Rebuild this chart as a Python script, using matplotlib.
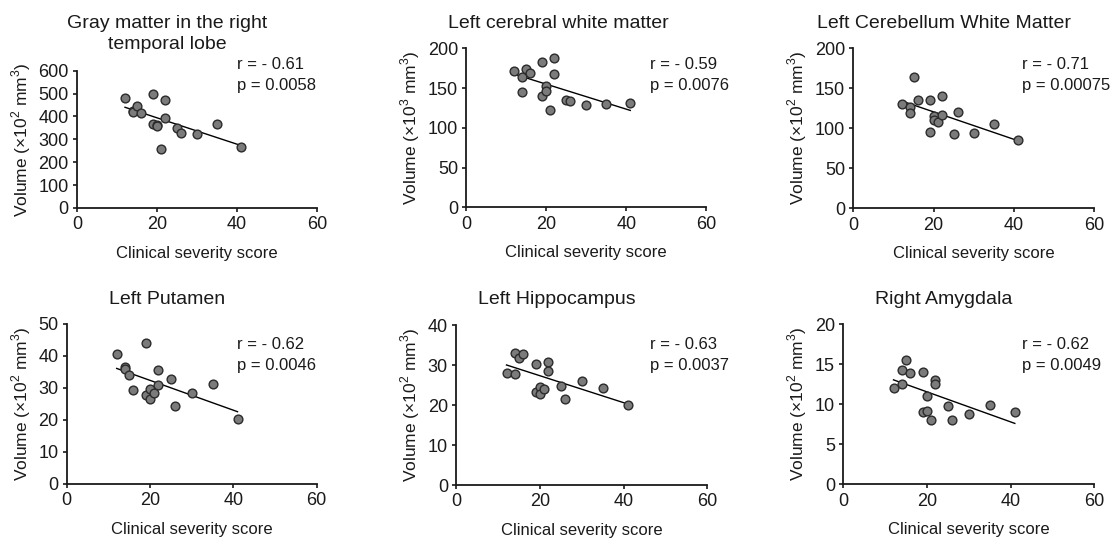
import numpy as np
import matplotlib
matplotlib.use("Agg")
import matplotlib.pyplot as plt

plt.rcParams['font.family'] = ['Liberation Sans', 'DejaVu Sans']
plt.rcParams['mathtext.fontset'] = 'custom'
plt.rcParams['mathtext.rm'] = 'Liberation Sans'

# clinical severity score (x), same subjects in every panel
score = [12, 14, 14, 15, 16, 19, 19, 20, 20, 21, 22, 22, 25, 26, 30, 35, 41]

gray_temporal = [480, 424, 418, 446, 414, 497, 366, 363, 360, 257, 472, 392, 349, 327, 324, 366, 266]
cerebral_wm = [172, 164, 145, 174, 169, 183, 140, 153, 146, 123, 188, 168, 135, 134, 129, 130, 131]
cerebellum_wm = [131, 127, 119, 164, 135, 136, 96, 115, 110, 108, 140, 117, 92.5, 121, 94, 105, 85]
putamen = [40.5, 36.5, 36.0, 34.0, 29.4, 44.0, 27.8, 29.6, 26.5, 28.3, 35.6, 30.9, 32.7, 24.4, 28.5, 31.1, 20.3]
hippocampus = [28.1, 33.1, 27.75, 31.8, 32.75, 30.25, 23.2, 24.6, 22.7, 23.9, 30.75, 28.5, 24.8, 21.5, 26.0, 24.2, 20.0]
amygdala = [12.1, 14.3, 12.5, 15.5, 13.9, 14.0, 9.1, 11.0, 9.2, 8.0, 13.0, 12.5, 9.8, 8.0, 8.8, 9.9, 9.0]

titles = [["Gray matter in the right", "temporal lobe"], ["Left cerebral white matter"],
          ["Left Cerebellum White Matter"], ["Left Putamen"], ["Left Hippocampus"], ["Right Amygdala"]]
ylabels = [r"Volume ($\times$10$^2$ mm$^3$)", r"Volume ($\times$10$^3$ mm$^3$)",
           r"Volume ($\times$10$^2$ mm$^3$)", r"Volume ($\times$10$^2$ mm$^3$)",
           r"Volume ($\times$10$^2$ mm$^3$)", r"Volume ($\times$10$^2$ mm$^3$)"]
r_values = ["- 0.61", "- 0.59", "- 0.71", "- 0.62", "- 0.63", "- 0.62"]
p_values = ["0.0058", "0.0076", "0.00075", "0.0046", "0.0037", "0.0049"]
y_max = [600, 200, 200, 50, 40, 20]
y_step = [100, 50, 50, 10, 10, 5]
volumes = [gray_temporal, cerebral_wm, cerebellum_wm, putamen, hippocampus, amygdala]

W, H = 1118, 541
fig = plt.figure(figsize=(W / 100, H / 100), dpi=100)

# axes boxes in pixels: left, top, right, bottom
boxes = [(77, 70.7, 317, 208), (466.3, 48.3, 706.3, 207.3), (853.3, 48.3, 1094.3, 208.3),
         (66.7, 324, 316.7, 484), (456.3, 325, 707.3, 485), (843.3, 324.3, 1094.3, 484.3)]
title_pos = [(167, 28), (558, 28), (944, 28), (167, 304), (557, 304), (944, 304)]
stat_pos = [(237, 69), (650, 69), (1022, 69), (237, 349), (650, 349), (1022, 349)]

for i in range(6):
    l, t, r, b = boxes[i]
    ax = fig.add_axes([l / W, 1 - b / H, (r - l) / W, (b - t) / H])
    x = np.array(score, dtype=float)
    y = np.array(volumes[i], dtype=float)
    slope, icpt = np.polyfit(x, y, 1)
    xl = np.array([x.min(), x.max()])
    ax.plot(xl, slope * xl + icpt, color='black', lw=1.0, zorder=2)
    ax.plot(x, y, 'o', ms=6.3, mfc='#7b7b7b', mec='#2b2b2b', mew=1.0, zorder=3, clip_on=False)

    ax.set_xlim(0, 60)
    ax.set_ylim(0, y_max[i])
    ax.set_xticks([0, 20, 40, 60])
    ax.set_yticks(np.arange(0, y_max[i] + 0.1, y_step[i]))
    for s in ['top', 'right']:
        ax.spines[s].set_visible(False)
    for s in ['left', 'bottom']:
        ax.spines[s].set_linewidth(1.3)
        ax.spines[s].set_color('#1a1a1a')
    ax.tick_params(direction='out', length=3, width=1.2, labelsize=13, colors='#1a1a1a', pad=3)
    ax.set_xlabel("Clinical severity score", fontsize=12, color='#1a1a1a', labelpad=9)
    ax.set_ylabel(ylabels[i], fontsize=12.5, color='#1a1a1a', labelpad=4)

    tx, ty = title_pos[i]
    for k, line in enumerate(titles[i]):
        fig.text(tx / W, 1 - (ty + 21 * k) / H, line, ha='center', va='baseline',
                 fontsize=14, color='#1a1a1a')
    sx, sy = stat_pos[i]
    fig.text(sx / W, 1 - sy / H, "r = " + r_values[i], ha='left', va='baseline',
             fontsize=12, color='#1a1a1a')
    fig.text(sx / W, 1 - (sy + 21) / H, "p = " + p_values[i], ha='left', va='baseline',
             fontsize=12, color='#1a1a1a')

fig.savefig("out.png", dpi=100)
